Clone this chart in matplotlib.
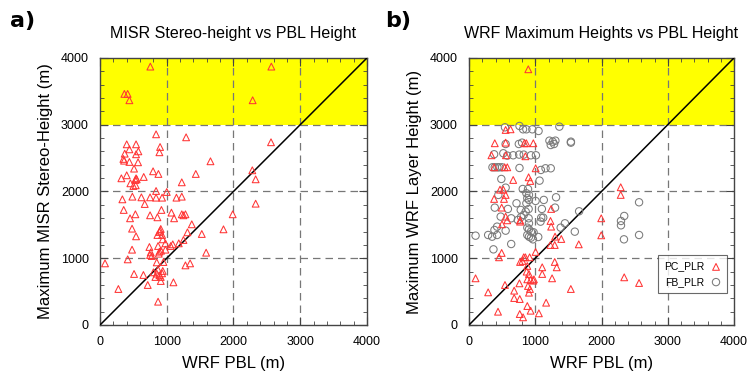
import matplotlib
matplotlib.use("Agg")
import matplotlib.pyplot as plt
import numpy as np

plt.rcParams["font.family"] = ["Liberation Sans", "DejaVu Sans"]

# ---- panel a: MISR stereo height vs WRF PBL ----
a_x = [754, 365, 414, 440, 2567, 2287,
       840, 1290, 400, 540, 900, 440, 575, 890, 370, 540, 350, 360, 440, 570,
       1655, 510, 795, 875, 1435, 320, 400, 540, 550, 530, 655, 1225, 455, 500,
       535, 840, 1000, 335, 485, 620, 750, 840, 930, 1145, 1225, 670, 355, 920,
       530, 750, 860, 450, 1070, 1225, 1250, 1280, 1110,
       1850, 1375, 480, 910, 900, 890, 1310, 1525, 540, 860, 930, 940, 1250,
       1180, 1090, 1060, 980, 870, 740, 480, 980, 760, 750, 775, 890, 880, 915,
       1590, 415, 75, 850, 950, 1350, 1280, 510, 650, 800, 850, 890, 930, 830,
       910, 870, 940, 1100, 715, 910, 275, 870,
       2332, 1988, 2282, 2332, 2562]
a_y = [3870, 3461, 3461, 3366, 3870, 3366,
       2856, 2811, 2706, 2706, 2666, 2631, 2601, 2587, 2566, 2557, 2487, 2461,
       2442, 2437, 2452, 2342, 2302, 2262, 2262, 2197, 2242, 2197, 2182, 2172,
       2217, 2137, 2122, 2082, 2092, 2007, 1992, 1882, 1922, 1912, 1912, 1907,
       1907, 1907, 1922, 1812, 1723, 1723, 1658, 1643, 1613, 1598, 1683, 1658,
       1643, 1658, 1598,
       1433, 1508, 1443, 1438, 1413, 1393, 1388, 1363, 1328, 1348, 1348, 1283,
       1273, 1223, 1208, 1183, 1223, 1183, 1168, 1128, 1128, 1088, 1048, 1033,
       1098, 1068, 1113, 1083, 983, 923, 938, 943, 923, 893, 764, 749, 789, 769,
       744, 774, 719, 719, 829, 809, 639, 599, 659, 539, 349,
       1817, 1658, 2317, 2182, 2737]

# ---- panel b: WRF max heights vs WRF PBL ----
pc_x = [895, 2290, 2290, 1996, 1996, 1657, 2343, 2567, 1537,
        553, 627, 389, 553, 836, 866, 971, 339, 558, 851, 379, 538, 578, 1006,
        667, 900, 925,
        468, 518, 379, 528, 553, 493, 1240, 553, 577, 771, 771, 1230, 498, 1240,
        1299, 1393, 493, 1005, 1229, 1294,
        453, 826, 851, 915, 771, 806, 1294, 1324, 1105, 880, 870, 905, 1105,
        1254, 99, 543, 761, 880, 930, 970, 980, 890, 920, 905, 682, 682, 766,
        289, 1164, 880, 930, 438, 766, 816, 1055]
pc_y = [3830, 2063, 1948, 1598, 1343, 1208, 714, 629, 539,
        2921, 2931, 2722, 2731, 2722, 2722, 2722, 2542, 2542, 2527, 2362, 2362,
        2362, 2347, 2172, 2212, 2157,
        2027, 2027, 1888, 1888, 1948, 1758, 1738, 1623, 1568, 1568, 1548, 1558,
        1508, 1473, 1323, 1288, 1079, 1094, 1198, 1198,
        1014, 1014, 1014, 1014, 944, 959, 944, 864, 864, 884, 799, 764, 764,
        699, 699, 599, 624, 684, 674, 664, 684, 584, 539, 484, 514, 404, 389,
        489, 334, 284, 214, 199, 164, 115, 175]
fb_x = [2567, 2343, 2294, 2294, 2567, 2339, 1662, 1597, 1448, 1384, 1314, 1299,
        543, 762, 816, 866, 956, 1050, 1364, 553, 752, 801, 1214, 1264, 1304,
        1234, 1284, 1538, 1538, 379, 518, 577, 667, 757, 826, 935, 1010, 354,
        389, 429, 458, 498, 762, 1085, 1155, 1234, 488, 1065,
        553, 443, 811, 891, 866, 905, 880, 905, 1005, 1129, 389, 587, 717, 866,
        900, 856, 781, 1100, 478, 637, 737, 786, 826, 900, 905, 1090, 1120,
        1080, 424, 384, 553, 880, 905, 935, 975, 99, 289, 349, 424, 880, 905,
        935, 965, 1045, 637, 369]
fb_y = [1838, 1633, 1558, 1493, 1348, 1283, 1703, 1398, 1523, 1458, 1913, 1758,
        2961, 2981, 2931, 2931, 2931, 2906, 2971, 2711, 2711, 2731, 2761, 2746,
        2761, 2696, 2711, 2746, 2731, 2557, 2572, 2537, 2542, 2552, 2552, 2542,
        2542, 2362, 2362, 2362, 2362, 2362, 2352, 2322, 2347, 2347, 2187, 2162,
        2057, 1948, 2037, 2037, 1973, 1948, 1898, 1873, 1858, 1873, 1758, 1738,
        1823, 1823, 1738, 1698, 1723, 1738, 1623, 1598, 1573, 1618, 1648, 1598,
        1523, 1608, 1608, 1548, 1473, 1423, 1413, 1458, 1433, 1398, 1388, 1338,
        1348, 1323, 1348, 1348, 1323, 1308, 1283, 1318, 1213, 1133]

TRI = dict(marker="^", s=24, facecolors="none", edgecolors="#ff3535",
           linewidths=0.75, zorder=4)
CIRC = dict(marker="o", s=28, facecolors="none", edgecolors="#7a7a7a",
            linewidths=0.75, zorder=4)

fig = plt.figure(figsize=(7.52, 3.73), dpi=100)
ax_a = fig.add_axes([0.133, 0.1287, 0.355, 0.716])
ax_b = fig.add_axes([469 / 752, 0.1287, 265 / 752, 0.716])


def setup(ax, title, ylabel):
    ax.set_xlim(0, 4000)
    ax.set_ylim(0, 4000)
    ax.axhspan(3000, 4000, color="#ffff00", zorder=0, lw=0)
    for v in (1000, 2000, 3000):
        ax.axvline(v, color="#777777", ls=(0, (6, 4)), lw=0.9, zorder=1)
        ax.axhline(v, color="#777777", ls=(0, (6, 4)), lw=0.9, zorder=1)
    ax.plot([0, 4000], [0, 4000], color="black", lw=1.1, zorder=3)
    ax.set_xticks([0, 1000, 2000, 3000, 4000])
    ax.set_yticks([0, 1000, 2000, 3000, 4000])
    ax.set_xticks(np.arange(0, 4001, 200), minor=True)
    ax.set_yticks(np.arange(0, 4001, 200), minor=True)
    ax.tick_params(which="both", direction="in", top=True, right=True,
                   labelsize=9, pad=8, color="#444444")
    ax.tick_params(which="major", length=6, width=0.8)
    ax.tick_params(which="minor", length=3, width=0.6)
    for sp in ax.spines.values():
        sp.set_linewidth(1.0)
        sp.set_color("#444444")
    ax.set_xlabel("WRF PBL (m)", fontsize=12, labelpad=6)
    ax.set_ylabel(ylabel, fontsize=12, labelpad=6)
    ax.set_title(title, fontsize=11.5, pad=14)


setup(ax_a, "MISR Stereo-height vs PBL Height", "Maximum MISR Stereo-Height (m)")
ax_a.scatter(a_x, a_y, **TRI)

setup(ax_b, "WRF Maximum Heights vs PBL Height", "Maximum WRF Layer Height (m)")
ax_b.scatter(fb_x, fb_y, label="FB_PLR", **CIRC)
ax_b.scatter(pc_x, pc_y, label="PC_PLR", **TRI)
h, l = ax_b.get_legend_handles_labels()
leg = ax_b.legend(h[::-1], l[::-1], loc="lower right", bbox_to_anchor=(0.995, 0.1),
                  fontsize=7.5, markerfirst=False, frameon=True, fancybox=False,
                  handletextpad=0.6, borderpad=0.6, labelspacing=0.5,
                  handlelength=1.0)
leg.get_frame().set_edgecolor("#444444")
leg.get_frame().set_linewidth(0.8)
leg.set_zorder(6)

fig.text(0.013, 0.945, "a)", fontsize=16, fontweight="bold",
         family="DejaVu Sans", va="center")
fig.text(0.512, 0.945, "b)", fontsize=16, fontweight="bold",
         family="DejaVu Sans", va="center")

fig.savefig("out.png", dpi=100)
